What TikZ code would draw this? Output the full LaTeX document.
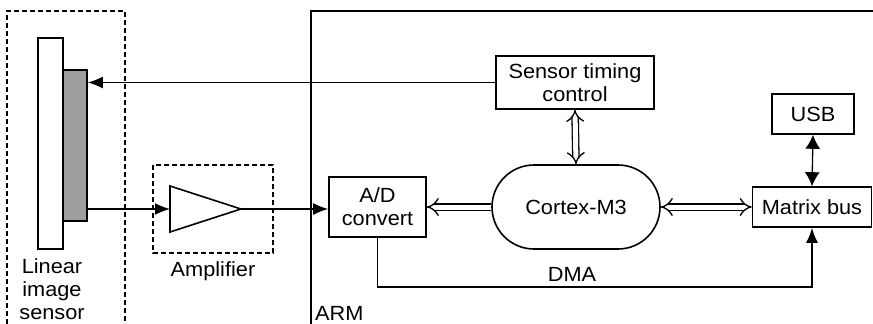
\documentclass[tikz,border=0pt]{standalone}
\usepackage{fontspec}
\setmainfont{Liberation Sans}[FakeStretch=1.06]
\usetikzlibrary{arrows.meta,shapes.misc,positioning}

\begin{document}
\begin{tikzpicture}[x=1pt,y=-1pt,
  every node/.style={font=\fontsize{20.5}{23}\selectfont},
  block/.style={draw,line width=1.6pt,inner sep=0pt,align=center},
  sig/.style={line width=1.5pt,-{Latex[length=15pt,width=12pt]}},
  bus/.style={double,double distance=5pt,line width=1.3pt},
  frame/.style={line width=1.5pt,dash pattern=on 5pt off 3pt}]
  \useasboundingbox (0,0) rectangle (873,324);

  % sensor side
  \draw[frame] (7,324) |- (125,11) -- (125,324);
  \node[block,fill=white,minimum width=25pt,minimum height=211pt] (sensor) at (50.5,143.5) {};
  \node[block,fill=black!38,minimum width=24pt,minimum height=151pt] (ccd) at (75,145.5) {};
  \node[align=center] (sensorlabel) at (52,289) {Linear\\image\\sensor};

  % amplifier
  \draw[frame] (153,165) rectangle (273,253);
  \coordinate (ampin) at (170,209);
  \coordinate (ampout) at (241,209);
  \draw[line width=1.6pt] (170,186) -- (ampout) -- (170,232) -- cycle;
  \node (amplabel) at (213,271) {Amplifier};

  % ARM
  \draw[line width=1.5pt] (311,324) |- (873,11);
  \node[anchor=base west,inner sep=0pt] (arm) at (315,320) {ARM};

  \node[block,minimum width=97pt,minimum height=60pt] (adc) at (377.5,207) {A/D\\convert};
  \node[block,minimum width=158pt,minimum height=53pt] (timing) at (575,82.5) {Sensor timing\\control};
  \node[block,rounded rectangle,minimum width=168pt,minimum height=84pt] (cortex) at (576,207) {Cortex-M3};
  \node[block,minimum width=119pt,minimum height=40pt] (matrix) at (812,207) {Matrix bus};
  \node[block,minimum width=82pt,minimum height=40pt] (usb) at (813,114) {USB};

  % connectors
  \draw[sig] (timing.west) -- (timing.west -| ccd.east);
  \draw[sig] (ampin -| ccd.east) -- (ampin);
  \draw[sig] (ampout) -- (ampout -| adc.west);
  \draw[bus,{Implies}-{Implies}] (timing.south) -- (cortex.north);
  \draw[bus,-{Implies}] (cortex.west) -- (adc.east);
  \draw[bus,{Implies}-{Implies}] (cortex.east) -- (matrix.west);
  \draw[line width=1.3pt,{Latex[length=14pt,width=15pt]}-{Latex[length=14pt,width=15pt]}] (usb.south) -- (matrix.north);
  \coordinate (dma) at (600,287);
  \draw[sig] (adc.south) |- (dma) -| (matrix.south);
  \node (dmalabel) at (572,274) {DMA};
\end{tikzpicture}
\end{document}
